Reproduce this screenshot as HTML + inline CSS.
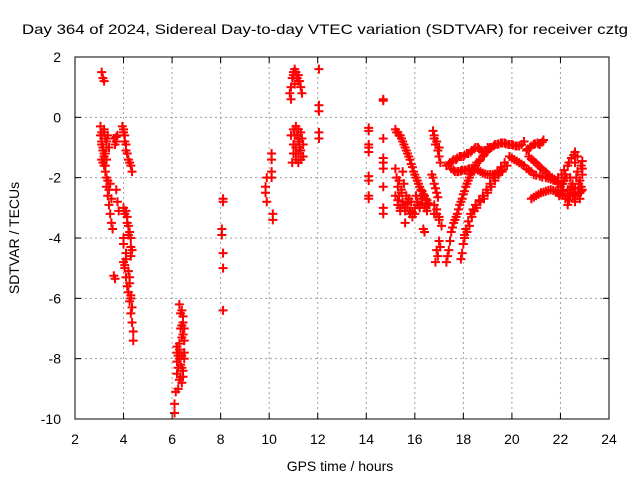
<!DOCTYPE html>
<html><head><meta charset="utf-8"><style>
body{margin:0;background:#fff}
svg{display:block;font-family:"Liberation Sans",sans-serif}
</style></head><body>
<svg id="chart" width="640" height="480" viewBox="0 0 640 480" xmlns="http://www.w3.org/2000/svg">
<rect width="640" height="480" fill="#fff"/>
<text x="325" y="34" font-size="14" text-anchor="middle" textLength="606" lengthAdjust="spacingAndGlyphs">Day 364 of 2024, Sidereal Day-to-day VTEC variation (SDTVAR) for receiver cztg</text>
<g id="grid"></g>
<g id="marks"></g>
<rect x="75" y="57" width="534" height="362" fill="none" stroke="#000" stroke-width="1"/>
<g id="ticks"></g>
<text transform="translate(19,238) rotate(-90)" font-size="14" text-anchor="middle">SDTVAR / TECUs</text>
<text x="340" y="471" font-size="14" text-anchor="middle">GPS time / hours</text>
</svg>
<script>
const xTicks=[2,4,6,8,10,12,14,16,18,20,22,24];
const yTicks=[2,0,-2,-4,-6,-8,-10];
const earlyHours=[3.1,3.15,3.2,3.05,3.1,3.1,3.15,3.2,3.1,3.2,3.25,3.3,3.3,3.35,3.4,3.45,3.5,3.55,3.2,3.3,3.35,3.25,3.4,3.6,3.7,3.75,3.7,3.75,3.8,3.95,4.0,4.05,4.1,4.2,4.3,4.35,4.0,4.05,4.15,4.2,4.3,4.3,4.0,4.0,4.0,4.05,4.1,4.15,4.2,4.25,4.3,4.35,4.4,4.4,4.1,4.25,4.3,3.6,3.65,
3.05,3.1,3.15,3.2,3.25,3.3,3.15,3.2,3.25,3.3,3.35,3.4,3.45,3.5,3.65,3.7,4.0,4.05,4.1,4.15,4.25,4.1,4.15,4.2,4.25,4.3,4.35,4.05,4.1,4.2,4.25,4.3,4.35];
const earlyVals=[1.5,1.3,1.2,-0.3,-0.5,-0.8,-1.0,-1.2,-1.4,-1.6,-1.8,-2.0,-2.3,-2.6,-2.9,-3.2,-3.5,-3.7,-0.5,-0.8,-0.6,-1.2,-1.0,-0.7,-0.8,-0.6,-2.4,-2.8,-3.1,-0.3,-0.5,-0.8,-1.1,-1.4,-1.6,-1.8,-3.0,-3.2,-3.5,-3.9,-4.3,-4.6,-4.0,-4.2,-4.8,-5.0,-5.3,-5.6,-5.8,-6.1,-6.5,-6.8,-7.1,-7.4,-4.5,-5.3,-6.0,-5.25,-5.35,
-0.6,-0.9,-1.1,-0.4,-0.7,-1.0,-1.5,-1.3,-1.6,-1.4,-2.1,-2.4,-2.2,-2.7,-0.9,-0.65,-0.4,-0.6,-0.9,-1.2,-1.5,-3.1,-3.3,-3.6,-3.8,-4.0,-4.4,-4.9,-4.7,-5.1,-5.5,-5.9,-6.3];
const midHours=[6.3,6.4,6.45,6.5,6.4,6.3,6.2,6.3,6.4,6.5,6.25,6.35,6.4,6.2,6.15,6.1,6.1,6.45,6.35,8.1,8.1,8.05,8.05,8.1,8.1,8.1,10.1,10.1,10.1,10.1,9.9,9.85,9.85,9.9,10.15,10.15,10.9,10.95,11.0,11.05,11.1,11.2,11.25,11.3,11.35,10.85,10.9,11.0,11.1,11.2,11.3,11.2,11.1,11.3,11.0,10.95,11.2,11.4,10.9,11.4,12.05,12.05,12.05,12.05,12.05,
6.35,6.4,6.45,6.5,6.2,6.25,6.3,6.35,6.45,6.2,6.3,6.4,6.45,6.25,6.5,11.0,11.05,11.15,11.2,11.05,11.15,11.25,11.35,11.0,11.1,11.2,11.3,11.1,11.25];
const midVals=[-6.2,-6.4,-6.8,-7.0,-7.3,-7.5,-7.8,-8.0,-7.9,-8.0,-8.3,-8.6,-8.8,-8.5,-9.1,-9.5,-9.8,-6.6,-7.0,-2.7,-2.8,-3.7,-3.9,-4.5,-5.0,-6.4,-1.2,-1.4,-1.8,-2.0,-2.0,-2.3,-2.5,-2.8,-3.2,-3.4,1.0,1.3,1.5,1.6,1.5,1.4,1.2,1.0,0.8,0.8,0.6,-0.4,-0.3,-0.4,-0.5,-0.8,-1.0,-1.1,-1.2,-1.5,-1.5,-1.3,-0.6,-0.9,1.6,0.4,0.2,-0.5,-0.7,
-6.5,-6.9,-7.2,-7.4,-7.6,-7.9,-7.7,-8.2,-8.4,-8.1,-8.7,-8.3,-8.6,-9.0,-7.8,1.4,1.1,1.3,1.2,-0.6,-0.6,-0.7,-0.7,-0.9,-1.2,-1.2,-1.4,-1.4,-1.0];
const lateHours=[14.1,14.1,14.1,14.1,14.1,14.1,14.1,14.1,14.1,14.7,14.7,14.7,14.7,14.7,14.7,14.7,14.7,14.7,
15.2,15.3,15.4,15.5,15.6,15.7,15.8,15.9,16.0,16.1,16.2,16.3,16.4,16.5,16.6,16.8,
15.2,15.3,15.4,15.5,15.6,15.7,15.8,15.9,16.0,16.1,16.2,15.6,15.5,15.55,15.2,15.25,15.3,15.35,15.45,15.75,16.3,16.45,
16.75,16.8,16.85,16.95,17.0,17.05,16.7,16.8,16.9,16.8,16.9,17.0,16.4,16.35,16.85,16.9,17.0,
17.3,17.4,17.5,17.6,17.7,17.8,17.9,18.0,18.1,18.2,18.3,18.4,18.5,18.65,18.8,18.95,19.1,19.25,19.4,19.55,19.7,19.85,20.0,20.15,20.3,20.5,
17.9,18.0,18.05,18.1,18.2,18.3,18.4,18.5,18.65,18.8,18.95,19.1,19.25,19.4,19.55,19.7,
17.3,17.45,17.6,17.75,17.9,18.05,18.2,18.35,18.5,18.65,18.8,19.0,17.5,17.65,17.8,17.95,18.1,18.25,18.4,18.6,18.8,19.0,19.2,19.4,19.6,
19.9,20.1,20.3,20.5,20.7,20.9,21.15,21.4,21.6,21.8,22.05,22.3,22.45,22.6,22.9,
20.8,21.0,21.2,21.4,21.6,21.8,22.0,22.2,22.4,22.6,22.8,22.9,20.6,20.75,20.9,21.05,21.15,21.3,20.7,20.9,21.1,21.3,21.5,21.65,21.8,
22.1,22.2,22.5,22.6,22.7,22.9,22.3,22.0,22.4,22.8,21.9,22.75];
const lateVals=[-0.35,-0.45,-0.9,-1.0,-1.15,-1.95,-2.1,-2.6,-2.7,0.55,0.6,-0.7,-1.35,-1.5,-1.7,-2.3,-3.0,-3.2,
-0.4,-0.5,-0.6,-0.8,-1.0,-1.2,-1.4,-1.65,-1.9,-2.1,-2.3,-2.45,-2.6,-2.75,-2.9,-3.2,
-2.6,-2.9,-3.1,-2.8,-2.9,-3.0,-3.2,-3.3,-3.0,-2.8,-3.0,-3.5,-1.8,-2.2,-1.7,-2.0,-2.3,-2.6,-2.4,-2.7,-2.7,-2.9,
-0.45,-0.7,-0.9,-1.1,-1.3,-1.5,-1.9,-2.2,-2.5,-2.9,-3.2,-3.4,-3.8,-3.7,-4.8,-4.4,-4.1,
-4.8,-4.4,-3.8,-3.5,-3.3,-3.05,-2.8,-2.55,-2.3,-2.1,-1.9,-1.75,-1.6,-1.45,-1.3,-1.15,-1.0,-0.95,-0.9,-0.85,-0.85,-0.9,-0.9,-0.95,-0.95,-0.8,
-4.7,-4.2,-3.9,-3.7,-3.45,-3.2,-3.05,-2.9,-2.75,-2.6,-2.4,-2.2,-2.0,-1.8,-1.65,-1.5,
-1.6,-1.5,-1.4,-1.35,-1.3,-1.25,-1.2,-1.1,-1.0,-1.05,-1.15,-1.0,-1.7,-1.8,-1.8,-1.75,-1.75,-1.7,-1.7,-1.75,-1.85,-1.9,-1.9,-1.85,-1.8,
-1.3,-1.4,-1.5,-1.6,-1.75,-1.9,-1.95,-2.0,-2.05,-2.1,-1.9,-1.6,-1.35,-1.15,-1.45,
-2.7,-2.6,-2.5,-2.45,-2.4,-2.45,-2.55,-2.6,-2.6,-2.55,-2.5,-2.4,-1.1,-1.0,-0.9,-0.85,-0.9,-0.75,-1.3,-1.45,-1.6,-1.75,-1.9,-2.0,-2.1,
-2.2,-1.9,-2.2,-2.8,-1.8,-1.9,-2.9,-2.3,-2.4,-2.7,-2.2,-2.2];
const denseHours=[15.25,15.35,15.45,15.55,15.65,15.75,15.85,15.95,16.05,16.15,16.25,16.35,16.45,16.55,
15.3,15.4,15.5,15.6,15.7,15.8,15.9,16.0,16.1,16.2,16.3,16.4,16.5,15.35,15.45,15.65,15.85,16.05,16.25,
16.8,16.9,17.0,16.75,16.85,16.95,16.9,17.0,17.1,16.95,17.05,
17.35,17.45,17.55,17.65,17.75,17.85,17.95,18.05,18.15,18.25,18.35,18.45,18.55,18.7,18.85,19.0,19.15,19.3,19.45,19.6,19.75,19.9,20.05,20.2,20.4,
17.95,18.05,18.15,18.25,18.35,18.45,18.55,18.7,18.85,19.0,19.15,19.3,19.45,19.6,19.8,
17.4,17.55,17.7,17.85,18.0,18.15,18.3,18.45,18.6,18.75,18.9,19.05,17.6,17.75,17.9,18.05,18.2,18.35,18.5,18.7,18.9,19.1,19.3,19.5,19.7,
20.0,20.2,20.4,20.6,20.8,21.0,21.25,21.5,21.7,21.9,22.15,22.35,22.55,22.7,22.85,
20.9,21.1,21.3,21.5,21.7,21.9,22.1,22.3,22.5,22.7,22.85,20.65,20.8,20.95,21.1,21.25,20.8,21.0,21.2,21.4,21.55,21.75,21.9,
22.15,22.25,22.45,22.55,22.65,22.8,22.35,22.05,22.5,22.7,22.0,22.6,22.4,22.2,22.9,21.95,22.3,22.6,22.85,22.1];
const denseVals=[-0.5,-0.6,-0.7,-0.9,-1.1,-1.3,-1.55,-1.8,-2.0,-2.2,-2.4,-2.55,-2.7,-2.85,
-2.75,-3.0,-2.9,-3.1,-2.85,-3.1,-3.15,-3.2,-2.9,-2.9,-2.85,-3.0,-3.1,-2.1,-2.5,-2.6,-2.8,-2.6,-2.6,
-0.6,-0.8,-1.0,-2.0,-2.35,-2.65,-3.05,-3.3,-3.6,-4.6,-4.3,
-4.6,-4.1,-3.65,-3.4,-3.2,-2.9,-2.7,-2.45,-2.2,-2.0,-1.8,-1.7,-1.5,-1.4,-1.25,-1.1,-1.0,-0.9,-0.88,-0.85,-0.88,-0.9,-0.92,-0.95,-0.9,
-4.5,-4.0,-3.8,-3.6,-3.3,-3.1,-3.0,-2.8,-2.7,-2.5,-2.3,-2.1,-1.9,-1.75,-1.6,
-1.55,-1.45,-1.4,-1.3,-1.3,-1.2,-1.15,-1.05,-1.0,-1.1,-1.1,-1.05,-1.75,-1.8,-1.78,-1.75,-1.72,-1.7,-1.72,-1.8,-1.88,-1.9,-1.88,-1.82,-1.6,
-1.35,-1.45,-1.55,-1.7,-1.8,-1.92,-1.98,-2.02,-2.08,-2.0,-1.75,-1.5,-1.25,-1.3,-1.6,
-2.65,-2.55,-2.48,-2.42,-2.42,-2.5,-2.58,-2.6,-2.58,-2.52,-2.45,-1.05,-0.95,-0.88,-0.88,-0.82,-1.38,-1.52,-1.68,-1.82,-1.95,-2.05,-2.15,
-2.1,-2.0,-2.3,-2.6,-2.0,-2.1,-2.75,-2.2,-2.5,-2.6,-2.4,-1.5,-2.0,-2.7,-1.7,-2.6,-2.4,-2.35,-2.3,-2.45];

const X0=75,X1=609,Y0=419,Y1=57;
const xScale=h=>X0+(h-2)/(24-2)*(X1-X0);
const yScale=v=>Y0-(v+10)/(2+10)*(Y0-Y1);
const NS='http://www.w3.org/2000/svg';
const grid=document.getElementById('grid'),ticks=document.getElementById('ticks'),marks=document.getElementById('marks');
function mk(tag,attrs,parent){const e=document.createElementNS(NS,tag);for(const k in attrs)e.setAttribute(k,attrs[k]);parent.appendChild(e);return e;}
xTicks.forEach(t=>{
  const x=xScale(t);
  if(t>2&&t<24){const g=mk('line',{x1:x,x2:x,y1:Y1,y2:Y0,stroke:'#a0a0a0','stroke-dasharray':'2,3'},grid);
  
  }
  mk('line',{x1:x,x2:x,y1:Y0,y2:Y0-6,stroke:'#000'},ticks);
  mk('line',{x1:x,x2:x,y1:Y1,y2:Y1+6,stroke:'#000'},ticks);
  const tx=mk('text',{x:x,y:Y0+25,'font-size':14,'text-anchor':'middle'},ticks);
  tx.textContent=t;
  
  
});
yTicks.forEach(t=>{
  const y=yScale(t);
  if(t<2&&t>-10){const g=mk('line',{x1:X0,x2:X1,y1:y,y2:y,stroke:'#a0a0a0','stroke-dasharray':'2,3'},grid);
  
  }
  mk('line',{x1:X0,x2:X0+6,y1:y,y2:y,stroke:'#000'},ticks);
  mk('line',{x1:X1,x2:X1-6,y1:y,y2:y,stroke:'#000'},ticks);
  const tx=mk('text',{x:X0-14,y:y+5,'font-size':14,'text-anchor':'end'},ticks);
  tx.textContent=t;
  
  
});
function plot(hs,vs){
  hs.forEach((h,i)=>{
    const x=xScale(h),y=yScale(vs[i]);
    const p=mk('path',{d:`M${x-4.5} ${y}H${x+4.5}M${x} ${y-4.5}V${y+4.5}`,stroke:'#ff0000','stroke-width':2,fill:'none'},marks);
    
    
  });
}
plot(earlyHours,earlyVals);
plot(midHours,midVals);
plot(lateHours,lateVals);
plot(denseHours,denseVals);
</script>
</body></html>
